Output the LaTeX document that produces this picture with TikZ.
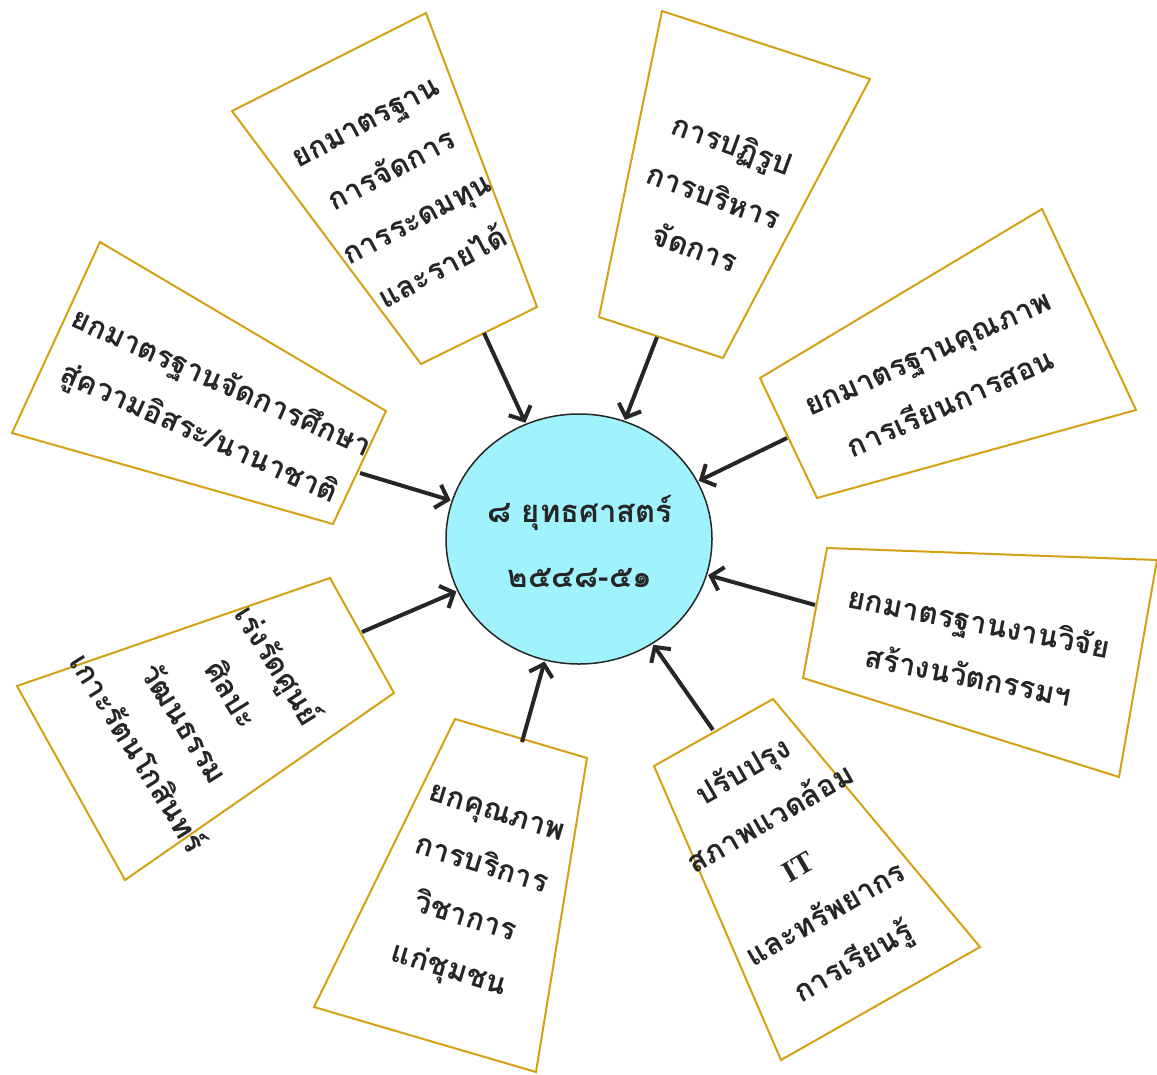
\documentclass[tikz,border=0pt]{standalone}
\usepackage{fontspec}
\newfontfamily\thaifont[Script=Thai]{Loma}
\newfontfamily\itfont{Liberation Serif}
\usetikzlibrary{arrows.meta,shapes.geometric}
\definecolor{boxgold}{RGB}{212,160,20}
\definecolor{ink}{RGB}{38,38,38}
\definecolor{cyanfill}{RGB}{160,242,252}
\tikzset{
  box/.style={draw=boxgold, line width=2pt, fill=white, line join=miter},
  lbl/.style={text=ink, align=center, inner sep=0pt, font=\thaifont\bfseries\fontsize{30}{55}\selectfont},
  link/.style={draw=ink, line width=4pt, -{Straight Barb[length=11pt,width=24pt]}, shorten >=1pt},
}
\begin{document}
\begin{tikzpicture}[x=1pt,y=-1pt]
\useasboundingbox (0,0) rectangle (1157,1074);
% boxes
\draw[box] (426,13) -- (537,307) -- (421,364) -- (232,111) -- cycle;
\draw[box] (662,11) -- (870,79) -- (723,358) -- (599,317) -- cycle;
\draw[box] (100,242) -- (386,411) -- (333,524) -- (12,433) -- cycle;
\draw[box] (1042,209) -- (1136,410) -- (817,498) -- (760,378) -- cycle;
\draw[box] (330,578) -- (394,693) -- (125,880) -- (17,686) -- cycle;
\draw[box] (827,548) -- (1157,560) -- (1119,777) -- (803,678) -- cycle;
\draw[box] (455,719) -- (587,758) -- (536,1072) -- (314,1007) -- cycle;
\draw[box] (773,699) -- (980,947) -- (781,1060) -- (654,766) -- cycle;
% centre
\node[ellipse, draw=ink, line width=1.5pt, fill=cyanfill, minimum width=266pt, minimum height=250pt, inner sep=0pt] (circ) at (579,539) {};
\node[lbl, font=\thaifont\bfseries\fontsize{31}{65}\selectfont] (ctext) at (580,541) {๘ ยุทธศาสตร์\\๒๕๔๘-๕๑};
% texts
\node[lbl, rotate=28] (t1) at (405,196) {ยกมาตรฐาน\\การจัดการ\\การระดมทุน\\และรายได้};
\node[lbl, rotate=-20] (t2) at (714,195) {การปฏิรูป\\การบริหาร\\จัดการ};
\node[lbl, rotate=-24] (t3) at (210,409) {ยกมาตรฐานจัดการศึกษา\\สู่ความอิสระ/นานาชาติ};
\node[lbl, rotate=24] (t4) at (940,380) {ยกมาตรฐานคุณภาพ\\การเรียนการสอน};
\node[lbl, rotate=-58] (t5) at (210,708) {เร่งรัดศูนย์\\ศิลปะ\\วัฒนธรรม\\เกาะรัตนโกสินทร์};
\node[lbl, rotate=-11] (t6) at (974,648) {ยกมาตรฐานงานวิจัย\\สร้างนวัตกรรมฯ};
\node[lbl, rotate=-17] (t7) at (472,895) {ยกคุณภาพ\\การบริการ\\วิชาการ\\แก่ชุมชน};
\node[lbl, rotate=30] (t8) at (799,868) {ปรับปรุง\\สภาพแวดล้อม\\{\itfont\bfseries IT}\\และทรัพยากร\\การเรียนรู้};
% arrow starts
\coordinate (s1) at (484,333);
\coordinate (s2) at (657,337);
\coordinate (s3) at (360,473);
\coordinate (s4) at (787,438);
\coordinate (s5) at (362,632);
\coordinate (s6) at (815,605);
\coordinate (s7) at (522,742);
\coordinate (s8) at (713,730);
\foreach \i in {1,...,8} \draw[link] (s\i) -- (circ);
\end{tikzpicture}
\end{document}
